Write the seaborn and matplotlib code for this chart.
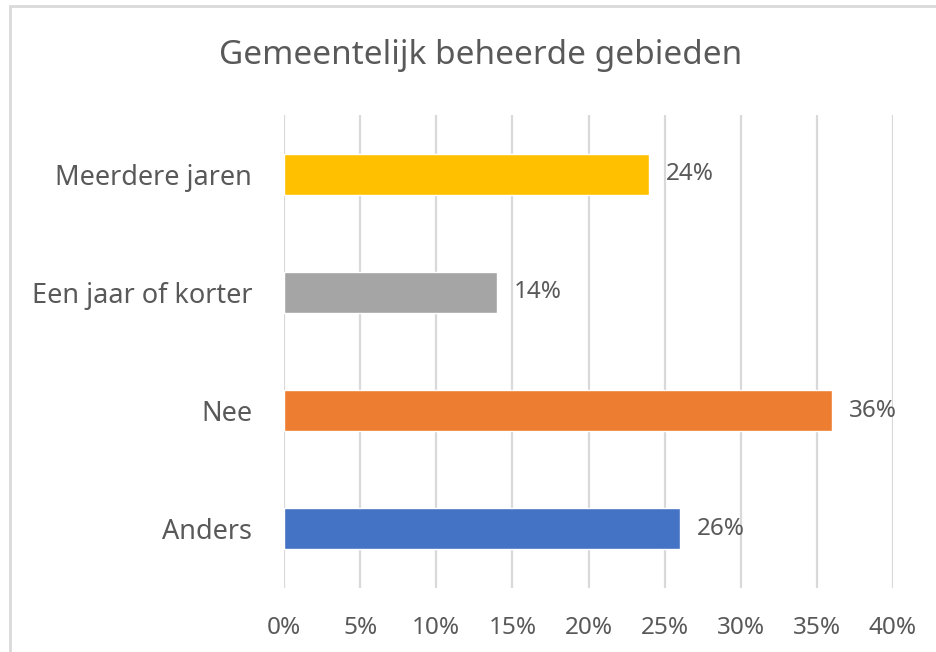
import matplotlib
matplotlib.use("Agg")
import matplotlib.pyplot as plt
import seaborn as sns
import pandas as pd
from matplotlib.patches import Rectangle

# chart data (top to bottom)
categories = ["Meerdere jaren", "Een jaar of korter", "Nee", "Anders"]
shares = [24, 14, 36, 26]
bar_colors = ["#FFC000", "#A5A5A5", "#ED7D31", "#4472C4"]
x_ticks = [0, 5, 10, 15, 20, 25, 30, 35, 40]

df = pd.DataFrame({"Categorie": categories, "Aandeel": shares})

sns.set_theme(style="white")
plt.rcParams["font.family"] = ["Noto Sans", "DejaVu Sans"]
text_grey = "#595959"
grid_grey = "#D9D9D9"

fig = plt.figure(figsize=(9.36, 6.52), dpi=100)
ax = fig.add_axes([284 / 936, 64 / 652, 609 / 936, 473 / 652])

sns.barplot(data=df, x="Aandeel", y="Categorie", hue="Categorie",
            palette=bar_colors, legend=False, width=0.345, ax=ax,
            saturation=1, orient="h")

ax.set_xlim(0, 40)
ax.set_xticks(x_ticks)
ax.set_xticklabels([f"{t}%" for t in x_ticks])
ax.xaxis.grid(True, color=grid_grey, linewidth=1.6)
ax.set_axisbelow(True)
ax.tick_params(axis="x", length=0, pad=20, labelsize=17.5, labelcolor=text_grey)
ax.tick_params(axis="y", length=0, pad=23, labelsize=19.5, labelcolor=text_grey)
ax.set_xlabel("")
ax.set_ylabel("")
for s in ax.spines.values():
    s.set_visible(False)

# data labels
for i, v in enumerate(shares):
    ax.text(v + 1.1, i, f"{v}%", va="center", ha="left",
            fontsize=17.5, color=text_grey)

fig.text(481 / 936, 1 - 56 / 652, "Gemeentelijk beheerde gebieden",
         ha="center", va="center", fontsize=24, color=text_grey)

# chart frame (runs off the right and bottom edge)
fig.patches.append(Rectangle((10 / 936, -0.05), 1.0, 1 - 6 / 652 + 0.05,
                             transform=fig.transFigure, fill=False,
                             edgecolor=grid_grey, linewidth=2))

fig.savefig("out.png", dpi=100)
